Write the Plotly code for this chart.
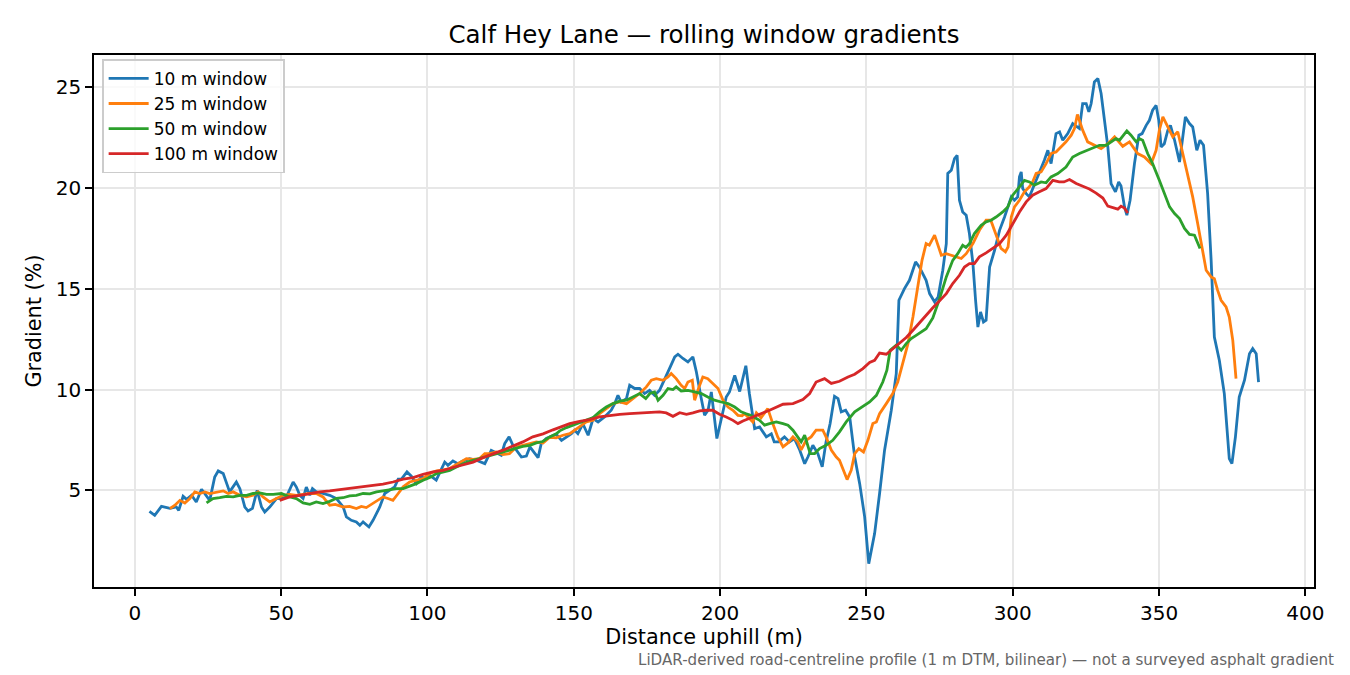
import plotly.graph_objects as go

# rolling window gradients along Calf Hey Lane
dist_10 = [5, 6.8, 9.1, 12, 14.2, 15, 16.5, 17.7, 19.4, 21, 22.8, 24.5, 25.6, 27.3, 28.5, 30.2, 31.3, 32.4,
           34.7, 35.9, 37.6, 38.7, 40.2, 41.8, 43.3, 44.4, 46.1, 48.4, 50, 51.8, 54.1, 55.2, 56.4, 57.5, 58.6,
           59.8, 60.7, 62, 64.3, 66.6, 68.9, 71.2, 72.3, 74, 75.7, 76.9, 78, 80, 81.4, 83.7, 85.4, 87.1, 88.8,
           90, 91.1, 93, 94.5, 96.2, 97.9, 99.6, 100.8, 103, 105.9, 107, 108.7, 110.4, 112.1, 114.4, 116.7,
           119.6, 121.8, 123.5, 125.2, 126.4, 127.9, 129.2, 132.1, 133.8, 135, 137.8, 138.9, 140.6, 143, 144,
           145.8, 149.2, 150.3, 151.4, 153.1, 154.9, 156.6, 158.3, 160.5, 162.8, 164, 165.1, 166.2, 168, 169.1,
           170.8, 172.5, 174.2, 175.9, 177.6, 179.3, 181, 182.7, 184.5, 185.6, 187.3, 189, 190.7, 191.9, 193.5,
           194.7, 195.9, 197, 198.9, 200.4, 202.1, 203.2, 205, 206.7, 208.8, 210, 211.8, 213.5, 215.8, 217.5,
           218.5, 220, 222, 223.7, 225.4, 227.2, 228.9, 230, 231.7, 233.4, 234.9, 236.2, 237.6, 239.1, 240.3,
           241.4, 242.9, 244.3, 246, 247.7, 249.4, 250.8, 252.8, 254.5, 256.2, 258.5, 260.2, 261.1, 263, 264.7,
           266.8, 268.1, 269.3, 270.4, 271.6, 273.3, 274.5, 276.1, 277.3, 277.8, 279, 280.1, 281, 281.8, 282.9,
           284.1, 285.2, 286.4, 287.3, 288.1, 289, 290, 290.9, 292.1, 293.8, 295.5, 297.2, 298, 299.5, 300.6,
           301.7, 302.3, 302.9, 303.4, 304.6, 305.7, 307.4, 309.1, 310.8, 312, 313.1, 314.8, 316, 317.1, 318.8,
           320.5, 322.8, 323.9, 325.1, 326, 326.8, 327.9, 329.1, 330.2, 331.3, 332.5, 333.6, 335.1, 336.2, 337,
           338.2, 339, 340.1, 341.6, 343.1, 344.2, 345.6, 346.7, 347.8, 349, 349.9, 350.7, 351.8, 353, 353.9,
           355.3, 357, 357.9, 359, 360.4, 361.5, 362.9, 364, 365.2, 366.6, 367.8, 368.9, 370.6, 372.3, 374,
           374.9, 376.1, 377.4, 379.2, 380.9, 382, 383.2, 384]
grad_10 = [3.95, 3.76, 4.2, 4.1, 4.17, 4.0, 4.7, 4.55, 4.75, 4.42, 5.05, 4.75, 4.5, 5.66, 5.96, 5.83, 5.33, 4.92,
           5.41, 5.08, 4.17, 3.97, 4.1, 5.0, 4.17, 3.92, 4.17, 4.59, 4.6, 4.67, 5.41, 5.16, 4.75, 4.6, 5.16,
           4.75, 5.08, 4.92, 4.84, 4.75, 4.59, 4.17, 3.68, 3.51, 3.43, 3.26, 3.43, 3.18, 3.51, 4.17, 4.84, 5.0, 5.17,
           5.55, 5.55, 5.91, 5.7, 5.33, 5.66, 5.58, 5.74, 5.5, 6.4, 6.24, 6.45, 6.32, 6.45, 6.57, 6.49,
           6.32, 6.98, 6.86, 6.74, 7.32, 7.65, 7.23, 6.65, 6.7, 7.15, 6.62, 7.32, 7.57, 7.7, 7.78,
           7.48, 7.81, 7.98, 7.81, 8.3, 7.73, 8.56, 8.39, 8.64, 8.97, 9.3, 9.71, 9.38, 9.55, 10.21,
           10.05, 10.05, 9.8, 9.96, 9.71, 9.96, 10.46, 11.04, 11.62, 11.75, 11.54, 11.37, 11.62, 10.87, 9.6,
           8.72, 8.97, 9.88, 7.57, 8.56, 9.63, 9.88, 10.7, 9.9, 11.18, 9.8, 8.06, 8.14, 7.65, 7.8,
           7.4, 7.4, 7.65, 7.4, 7.56, 7.0, 6.32, 6.65, 7.23, 6.82, 6.16, 7.4, 8.31, 9.66, 9.55,
           8.89, 8.97, 8.64, 6.65, 5.33, 3.68, 1.36, 2.85, 4.84, 6.99, 8.97, 10.79, 14.43, 15.01, 15.42,
           16.33, 16.08, 15.75, 15.42, 14.76, 14.35, 14.59, 15.92, 17.24, 20.72, 20.88, 21.46, 21.62, 19.39, 18.81,
           18.65, 17.74, 16.25, 14.43, 13.1, 13.85, 13.35, 13.44, 16.08, 16.91, 17.9, 18.56, 18.9, 19.56, 19.39,
           19.56, 20.55, 20.8, 19.97, 19.72, 19.56, 20.14, 20.72, 21.38, 21.87, 21.21, 22.7, 22.78, 22.37, 22.7,
           23.2, 22.95, 24.19, 24.19, 23.78, 24.19, 25.26, 25.43, 24.69, 23.53, 22.04, 20.22, 19.81, 20.3, 20.1,
           19.06, 18.65, 19.39, 21.21, 22.62, 22.7, 23.11, 23.36, 23.86, 24.1, 23.36, 22.04, 22.2, 22.87, 23.11,
           22.37, 21.29, 22.37, 23.53, 23.2, 23.03, 21.87, 22.37, 22.12, 19.72, 16.41, 12.6, 11.45, 9.8, 6.57,
           6.32, 7.65, 9.63, 10.46, 11.78, 12.03, 11.78, 10.37]

dist_25 = [12, 13.7, 15.4, 17.1, 18.8, 20.5, 22.2, 23.9, 25.6, 27.9, 30.2, 31.9, 33.6, 35.9, 38.2, 40.4, 42.1,
           43.8, 46.1, 48.4, 50.7, 52.9, 55.2, 57.5, 59.8, 62, 64.3, 66.6, 68.5, 71.2, 73.4, 75.7, 77.4, 79.1,
           80.9, 83.1, 84.8, 86.5, 88.2, 90, 91.7, 93.9, 96.2, 98.5, 100.8, 103.1, 105.3, 107.6, 110.4, 113.3,
           115.6, 117.8, 119.6, 121.3, 123.5, 125.8, 128, 130.4, 132.6, 135, 137.2, 139.5, 141.8, 144, 146.3,
           148.6, 151.5, 154.3, 156.6, 158.8, 161.1, 163.4, 165.7, 168, 170.2, 172.5, 174.8, 176.5, 178.2, 180.5,
           182.2, 183.3, 185, 186.7, 187.9, 189, 190.5, 191.3, 192.8, 194.1, 195.8, 197.5, 199.3, 201, 202.7,
           204.4, 206.1, 207.5, 208.4, 211.2, 212.4, 214, 216.3, 218, 219.7, 221.5, 223.2, 224.9, 226.6, 227.7,
           229.4, 231.1, 232.8, 235.1, 236.2, 238, 239.7, 240.8, 242.5, 243.4, 244.8, 246, 247.4, 249, 250.5,
           252.2, 253.4, 254.5, 256.8, 259, 260.7, 262.4, 264.2, 265.9, 267.6, 269, 270.4, 271.5, 273.3, 274.5,
           275.6, 277.3, 280.7, 282.4, 284.1, 286.4, 288.6, 290.9, 292.5, 293.8, 294.9, 296, 297.5, 298.4, 299.5,
           300.6, 302.3, 304, 305.7, 306.8, 308, 309.7, 311.4, 313.1, 314.8, 316.5, 318.2, 320, 321.1, 322.1,
           323.9, 325.6, 327.9, 330.2, 332.5, 334.8, 337.6, 339.9, 342.7, 345, 347.3, 349, 350.1, 351.3, 353,
           354.7, 356.4, 358.1, 359.8, 361.5, 363.2, 364.9, 366.1, 367.8, 368.9, 370, 371.2, 372.9, 374, 375.2,
           376.3]
grad_25 = [4.09, 4.26, 4.5, 4.37, 4.59, 4.92, 4.84, 4.92, 4.84, 4.92, 4.97, 4.84, 4.92, 4.75, 4.67, 4.75, 4.92,
           4.67, 4.42, 4.59, 4.75, 4.8, 4.75, 4.8, 4.84, 4.84, 4.67, 4.26, 4.3, 4.17, 4.2, 4.09, 4.2, 4.14,
           4.31, 4.5, 4.67, 4.59, 4.5, 4.84, 5.17, 5.41, 5.5, 5.58, 5.83, 5.96, 6.0, 6.08, 6.32, 6.57,
           6.53, 6.57, 6.82, 6.82, 6.9, 6.77, 6.82, 7.15, 7.23, 7.32, 7.4, 7.35, 7.63, 7.6, 7.73,
           7.81, 8.1, 8.39, 8.47, 8.8, 9.05, 9.3, 9.38, 9.3, 9.55, 9.8, 10.13, 10.46, 10.54, 10.46,
           10.62, 10.79, 10.54, 10.21, 10.05, 10.37, 10.46, 9.47, 10.13, 10.62, 10.54, 10.3, 10.05, 9.47, 9.13,
           8.97, 8.72, 8.7, 8.8, 8.39, 8.84, 8.6, 9.05, 8.31, 7.65, 7.15, 7.35, 7.65, 7.4, 7.0,
           7.48, 7.65, 7.98, 7.98, 7.65, 7.0, 6.65, 6.49, 5.83, 5.53, 5.99, 6.82, 7.07, 6.9, 7.48,
           8.31, 8.39, 8.8, 9.3, 9.8, 10.37, 11.29, 12.28, 13.6, 15.26, 16.41, 17.24, 17.16, 17.66, 17.07,
           16.66, 16.74, 16.58, 16.5, 16.74, 17.24, 17.9, 18.4, 18.4, 17.9, 17.49, 17.0, 16.83, 17.07, 18.56,
           19.06, 19.39, 19.81, 20.06, 20.3, 20.72, 20.8, 21.21, 21.71, 21.79, 22.04, 22.29, 22.62, 22.95, 23.65,
           22.87, 22.29, 22.12, 21.96, 22.2, 22.54, 22.07, 22.29, 21.71, 21.54, 21.21, 21.87, 22.87, 23.53, 23.03,
           22.54, 22.79, 21.71, 20.55, 19.56, 18.24, 16.75, 15.92, 15.59, 15.5, 14.93, 14.43, 14.1, 13.6, 12.44,
           10.54]

dist_50 = [24.5, 26.7, 29, 31.3, 33.6, 35.9, 38.2, 40.4, 42.7, 45, 47.3, 50.1, 52.4, 55.2, 57.5, 59.8, 62,
           64.3, 66.6, 68.9, 71.2, 73.4, 75.7, 78, 80.3, 82.6, 84.8, 87.1, 89.4, 91.7, 93.9, 96.2, 98.5, 100.8,
           103.1, 105.3, 107.6, 109.9, 112.1, 114.4, 116.7, 119, 121.3, 123.5, 125.8, 128.1, 130.4, 132.6, 135,
           137.2, 139.4, 141.8, 144, 145.2, 147.5, 149.7, 152, 154.3, 156.6, 158.8, 161.1, 163.4, 165.7, 168,
           170.2, 172.5, 174.6, 176, 177.6, 178.8, 180.5, 182.2, 183.9, 185, 186.7, 189, 191.3, 193.6, 195.8,
           198.1, 200.4, 202.7, 205, 207.2, 208.9, 210.5, 213.5, 215.2, 216.9, 219.2, 221.5, 223.2, 224.9, 226.6,
           227.7, 228.9, 230.8, 232.3, 234, 236.2, 238.5, 240.8, 243.1, 246, 248.8, 251.1, 253.4, 255.6, 257,
           258.1, 260.2, 261.9, 263.6, 265.3, 267, 268.7, 270.4, 272.7, 275, 277.3, 279.5, 281.2, 282.9, 284,
           285.2, 286.9, 289.2, 290.9, 292.6, 294.3, 296.6, 298.3, 300, 302.3, 304, 305.7, 307.4, 309.7, 311.4,
           313.1, 315.4, 318.2, 320.5, 322.8, 325.1, 327.4, 329.6, 331.9, 333.6, 335.3, 336.5, 339, 340.4, 342.2,
           343.3, 344.4, 346.1, 347.8, 350.1, 351.8, 353.6, 355.3, 357, 358.7, 360.4, 362.1, 363.2, 364]
grad_50 = [4.37, 4.59, 4.64, 4.7, 4.67, 4.75, 4.75, 4.84, 4.87, 4.8, 4.8, 4.84, 4.7, 4.59, 4.37, 4.3, 4.42,
           4.34, 4.45, 4.6, 4.63, 4.72, 4.75, 4.84, 4.82, 4.92, 4.97, 5.03, 5.08, 5.08, 5.2, 5.33, 5.5, 5.63,
           5.83, 5.91, 5.99, 6.16, 6.32, 6.44, 6.53, 6.62, 6.74, 6.82, 6.9, 6.99, 7.07, 7.18, 7.23,
           7.35, 7.42, 7.65, 7.8, 7.95, 8.11, 8.23, 8.34, 8.47, 8.61, 8.89, 9.13, 9.3, 9.42, 9.47,
           9.63, 9.8, 9.55, 9.8, 9.88, 9.47, 9.71, 10.05, 10.0, 10.13, 9.93, 9.96, 9.88, 9.8, 9.63,
           9.47, 9.38, 9.3, 9.13, 8.89, 8.8, 8.72, 8.47, 8.23, 8.31, 8.39, 8.31, 8.23, 7.98, 7.65,
           7.4, 7.73, 6.82, 6.82, 7.07, 7.23, 7.48, 7.9, 8.39, 8.89, 9.17, 9.38, 9.71, 10.37, 10.96,
           11.95, 12.2, 11.95, 12.28, 12.53, 12.69, 12.86, 13.02, 13.55, 14.5, 15.59, 16.41, 16.74, 17.16, 17.05,
           17.24, 17.74, 18.15, 18.32, 18.4, 18.56, 18.81, 19.06, 19.64, 20.06, 20.38, 20.3, 20.14, 20.3, 20.26,
           20.55, 20.72, 21.04, 21.54, 21.71, 21.85, 21.96, 22.12, 22.12, 22.3, 22.45, 22.37, 22.83, 22.62, 22.29,
           22.45, 22.37, 21.71, 21.21, 20.38, 19.72, 19.06, 18.73, 18.48, 17.99, 17.7, 17.66, 17.32, 17.0]

dist_100 = [49.5, 52.9, 56.4, 59.8, 63.2, 66.6, 70, 72.9, 75.7, 80.3, 84.8, 88.2, 91.7, 95.1, 98.5, 101.9,
            105.3, 108.7, 112.1, 115.6, 119, 122.4, 125.8, 129.2, 132.6, 136, 139.5, 142.9, 145.2, 148.6, 152,
            155.4, 158.8, 162.3, 165.7, 169.1, 172.5, 175.9, 179.3, 181.6, 183.9, 186.2, 188.5, 190.7, 193,
            195.3, 197.5, 199.8, 202.1, 204.4, 206.1, 207.8, 210, 212.9, 216.9, 221.5, 224.9, 228.3, 230.6,
            232.8, 235.7, 238, 240.8, 243.7, 246, 248.8, 251.1, 252.8, 254.5, 256.8, 259, 261.3, 263.6, 265.9,
            268.1, 270.4, 272.7, 275, 277.3, 279.5, 281.8, 283.5, 285.2, 286.9, 288.6, 290.9, 293.2, 295.5,
            297.8, 300, 302.3, 304.6, 306.8, 309.1, 311.4, 313.7, 315.9, 317.5, 319.4, 321.7, 323.9, 326.2,
            328.5, 330.8, 332.5, 334.2, 335.9, 337, 338.2, 339.3]
grad_100 = [4.5, 4.67, 4.75, 4.84, 4.92, 4.97, 5.03, 5.08, 5.13, 5.21, 5.3, 5.41, 5.55, 5.63, 5.79, 5.91,
            5.99, 6.13, 6.27, 6.4, 6.62, 6.79, 6.99, 7.2, 7.4, 7.65, 7.8, 8.0, 8.12, 8.31, 8.42,
            8.51, 8.64, 8.72, 8.77, 8.8, 8.84, 8.85, 8.89, 8.84, 8.67, 8.85, 8.77, 8.84, 8.94,
            8.97, 8.97, 8.77, 8.64, 8.47, 8.31, 8.44, 8.56, 8.72, 8.97, 9.27, 9.3, 9.5, 9.8,
            10.37, 10.54, 10.3, 10.41, 10.62, 10.76, 11.04, 11.34, 11.45, 11.81, 11.75, 12.03, 12.31, 12.58, 12.94,
            13.3, 13.72, 14.06, 14.4, 14.76, 15.26, 15.67, 16.08, 16.25, 16.25, 16.58, 16.78, 16.99, 17.24,
            17.66, 18.24, 18.81, 19.31, 19.64, 19.81, 19.97, 20.38, 20.3, 20.3, 20.42, 20.22, 20.1, 19.95,
            19.75, 19.5, 19.1, 19.01, 18.95, 19.1, 19.0, 18.76]

series = [
    ("10 m window", dist_10, grad_10, "#1f77b4"),
    ("25 m window", dist_25, grad_25, "#ff7f0e"),
    ("50 m window", dist_50, grad_50, "#2ca02c"),
    ("100 m window", dist_100, grad_100, "#d62728"),
]

fig = go.Figure()
for name, x, y, colour in series:
    fig.add_trace(go.Scatter(
        x=x, y=y, mode="lines", name=name,
        line=dict(color=colour, width=2.8)
    ))

axis_style = dict(
    showline=True, linecolor="black", linewidth=1.6, mirror=True,
    ticks="outside", ticklen=7, tickwidth=1.6, tickcolor="black",
    showgrid=True, gridcolor="#e7e7e7", gridwidth=1.6,
    zeroline=False, tickfont=dict(size=20, color="black"),
)

# page has an 8px body margin, so the figure is sized/positioned to compensate
W, H = 1342, 667

fig.update_layout(
    width=W, height=H,
    margin=dict(l=86, r=36, t=47, b=88),
    paper_bgcolor="white", plot_bgcolor="white",
    font=dict(family="DejaVu Sans", color="black"),
    title=dict(
        text="Calf Hey Lane — rolling window gradients",
        x=0.5, xref="paper", xanchor="center",
        y=1 - 26 / H, yanchor="middle",
        font=dict(size=24.5, color="black")
    ),
    xaxis=dict(
        axis_style, range=[-13.95, 402.95],
        tickvals=[0, 50, 100, 150, 200, 250, 300, 350, 400],
        title=dict(text="Distance uphill (m)", font=dict(size=20.8), standoff=6)
    ),
    yaxis=dict(
        axis_style, range=[0.2, 26.6],
        tickvals=[5, 10, 15, 20, 25],
        title=dict(text="Gradient (%)", font=dict(size=20.8), standoff=8)
    ),
    legend=dict(
        x=0.0066, y=0.992, xanchor="left", yanchor="top",
        bgcolor="rgba(255,255,255,0.8)", bordercolor="#cccccc", borderwidth=1.6,
        font=dict(size=17, color="black"), itemwidth=40, tracegroupgap=0
    ),
    showlegend=True,
)

fig.add_annotation(
    text="LiDAR-derived road-centreline profile (1 m DTM, bilinear) — not a surveyed asphalt gradient",
    xref="paper", yref="paper", x=1.018, y=-0.137,
    xanchor="right", yanchor="middle", showarrow=False,
    font=dict(size=15.1, color="#666666")
)

fig.write_html("out.html")
